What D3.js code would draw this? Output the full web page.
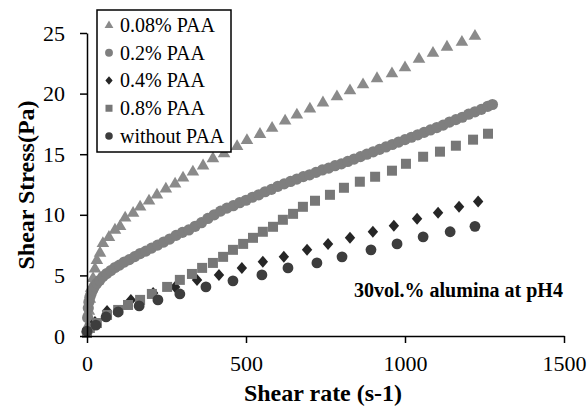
<!DOCTYPE html>
<html><head><meta charset="utf-8">
<script src="https://cdn.jsdelivr.net/npm/d3@7"></script>
<style>body{margin:0;background:#fff}svg{display:block}text{font-family:"Liberation Serif","Times New Roman",serif;fill:#000}</style>
</head><body><svg id="c" width="588" height="406"></svg>
<script>
// ---- data ----
const seriesNames = ["0.08% PAA","0.2% PAA","0.4% PAA","0.8% PAA","without PAA"];
const xTicks = [0,500,1000,1500];
const yTicks = [0,5,10,15,20,25];

const paa008_x = [3,6,9,13,19,25,31,41,50,69,88,104,120,145,167,195,220,248,277,302,333,365,396,431,472,503,544,582,623,660,701,742,786,827,868,912,959,1000,1044,1088,1132,1179,1220];
const paa008_y = [0.9,2.1,3.1,4.0,4.8,5.6,6.3,6.9,7.7,8.2,8.8,9.1,9.8,10.2,10.7,11.2,11.7,12.2,12.6,13.1,13.6,14.1,14.7,15.1,15.7,16.2,16.7,17.2,17.8,18.3,18.8,19.3,19.8,20.3,20.8,21.3,21.7,22.2,22.9,23.4,23.9,24.3,24.8];

const paa02_x = [0,2,4,6,9,13,18,24,31,40,50,62,75,88,102,117,133,150,167,185,203,222,241,260,280,300,320,340,360,380,400,420,440,460,480,500,520,540,560,580,600,620,640,660,680,700,720,740,760,780,800,820,840,860,880,900,920,940,960,980,1000,1020,1040,1060,1080,1100,1120,1140,1160,1180,1200,1220,1240,1260,1275];
const paa02_y = [0.3,1.5,2.3,2.8,3.2,3.5,3.8,4.1,4.35,4.6,4.9,5.15,5.4,5.65,5.85,6.1,6.3,6.55,6.8,7.0,7.25,7.5,7.75,8.0,8.3,8.55,8.75,9.05,9.35,9.7,10.0,10.3,10.55,10.75,11.0,11.2,11.45,11.65,11.9,12.1,12.35,12.55,12.75,12.95,13.15,13.3,13.5,13.7,13.85,14.05,14.2,14.4,14.6,14.8,15.0,15.2,15.4,15.6,15.8,16.0,16.2,16.4,16.6,16.8,17.0,17.2,17.4,17.65,17.85,18.05,18.3,18.5,18.7,18.95,19.1];

const paa04_x = [3,25,63,138,208,277,346,415,487,553,619,692,758,827,899,965,1038,1104,1170,1230];
const paa04_y = [0.33,1.16,2.07,2.98,3.55,4.05,4.63,5.04,5.62,6.12,6.53,7.11,7.6,8.1,8.6,9.09,9.67,10.17,10.66,11.1];

const paa08_x = [0,9,31,63,98,129,167,204,252,292,330,362,396,428,459,491,522,553,585,616,648,679,717,764,808,858,906,959,1003,1057,1110,1160,1214,1261];
const paa08_y = [0.25,0.66,1.07,1.74,2.15,2.56,2.98,3.47,4.05,4.63,5.12,5.62,6.03,6.53,7.11,7.6,8.1,8.6,9.01,9.59,10.08,10.66,11.16,11.65,12.23,12.73,13.14,13.64,14.21,14.79,15.21,15.7,16.2,16.69];

const nopaa_x = [0,28,60,98,164,223,292,374,459,550,632,723,802,893,975,1057,1142,1220];
const nopaa_y = [0.4,0.9,1.57,1.98,2.48,2.98,3.47,4.05,4.55,5.04,5.62,6.03,6.53,7.11,7.6,8.18,8.6,9.05];

// ---- styles ----
const triPath = "M0,-6.5L6.3,4.3L-6.3,4.3Z";
const diaPath = "M0,-6L5.2,0L0,6L-5.2,0Z";
const styles = [
  {xs:paa008_x, ys:paa008_y, type:"tri", color:"#8a8a8a"},
  {xs:paa02_x,  ys:paa02_y,  type:"circ", color:"#7f7f7f", r:5.6},
  {xs:paa04_x,  ys:paa04_y,  type:"dia", color:"#262626"},
  {xs:paa08_x,  ys:paa08_y,  type:"sq", color:"#777777", w:10},
  {xs:nopaa_x,  ys:nopaa_y,  type:"circ", color:"#3d3d3d", r:5.4}
];

const svg = d3.select("#c");
const x = d3.scaleLinear().domain([0,1500]).range([87,564]);
const y = d3.scaleLinear().domain([0,25]).range([336,33]);

function drawMarker(g, st, px, py, scale){
  scale = scale || 1;
  if(st.type==="tri") g.append("path").attr("d",triPath).attr("transform",`translate(${px},${py}) scale(${scale})`).attr("fill",st.color);
  else if(st.type==="dia") g.append("path").attr("d",diaPath).attr("transform",`translate(${px},${py}) scale(${scale})`).attr("fill",st.color);
  else if(st.type==="circ") g.append("circle").attr("cx",px).attr("cy",py).attr("r",st.r*scale).attr("fill",st.color);
  else if(st.type==="sq") g.append("rect").attr("x",px-st.w*scale/2).attr("y",py-st.w*scale/2).attr("width",st.w*scale).attr("height",st.w*scale).attr("fill",st.color);
}

const plot = svg.append("g");
styles.forEach(st=>{
  const g = plot.append("g");
  st.xs.forEach((v,i)=>drawMarker(g, st, x(v), y(st.ys[i])));
});

// axes
const xAxis = svg.append("g").attr("transform","translate(0,336)")
  .call(d3.axisBottom(x).tickValues(xTicks).tickFormat(d3.format("d")).tickSize(7).tickSizeOuter(0).tickPadding(12));
const yAxis = svg.append("g").attr("transform","translate(87,0)")
  .call(d3.axisLeft(y).tickValues(yTicks).tickFormat(d3.format("d")).tickSize(7).tickSizeOuter(0).tickPadding(15));
[xAxis,yAxis].forEach(a=>{
  a.selectAll("path,line").attr("stroke","#000").attr("stroke-width",1.5);
  a.selectAll("text").attr("font-family","Liberation Serif, serif").attr("font-size",22).attr("fill","#000");
});
xAxis.selectAll("text").attr("dy","0.71em");

// axis titles
svg.append("text").attr("x",323).attr("y",401).attr("text-anchor","middle")
  .attr("font-size",24).attr("font-weight","bold").text("Shear rate (s-1)");
svg.append("text").attr("transform","translate(34,185) rotate(-90)").attr("text-anchor","middle")
  .attr("font-size",24).attr("font-weight","bold").text("Shear Stress(Pa)");

// annotation
svg.append("text").attr("x",354).attr("y",297).attr("font-size",20).attr("font-weight","bold")
  .text("30vol.% alumina at pH4");

// legend
const lg = svg.append("g");
lg.append("rect").attr("x",97).attr("y",10).attr("width",134).attr("height",142)
  .attr("fill","#fff").attr("stroke","#000").attr("stroke-width",1.5);
const legY = d3.scaleLinear().domain([0,4]).range([25,136]);
seriesNames.forEach((n,i)=>{
  const st = styles[i];
  drawMarker(lg, st, 109, legY(i), 0.7);
  lg.append("text").attr("x",120).attr("y",legY(i)).attr("dy","0.34em").attr("font-size",20).text(n);
});
</script></body></html>
